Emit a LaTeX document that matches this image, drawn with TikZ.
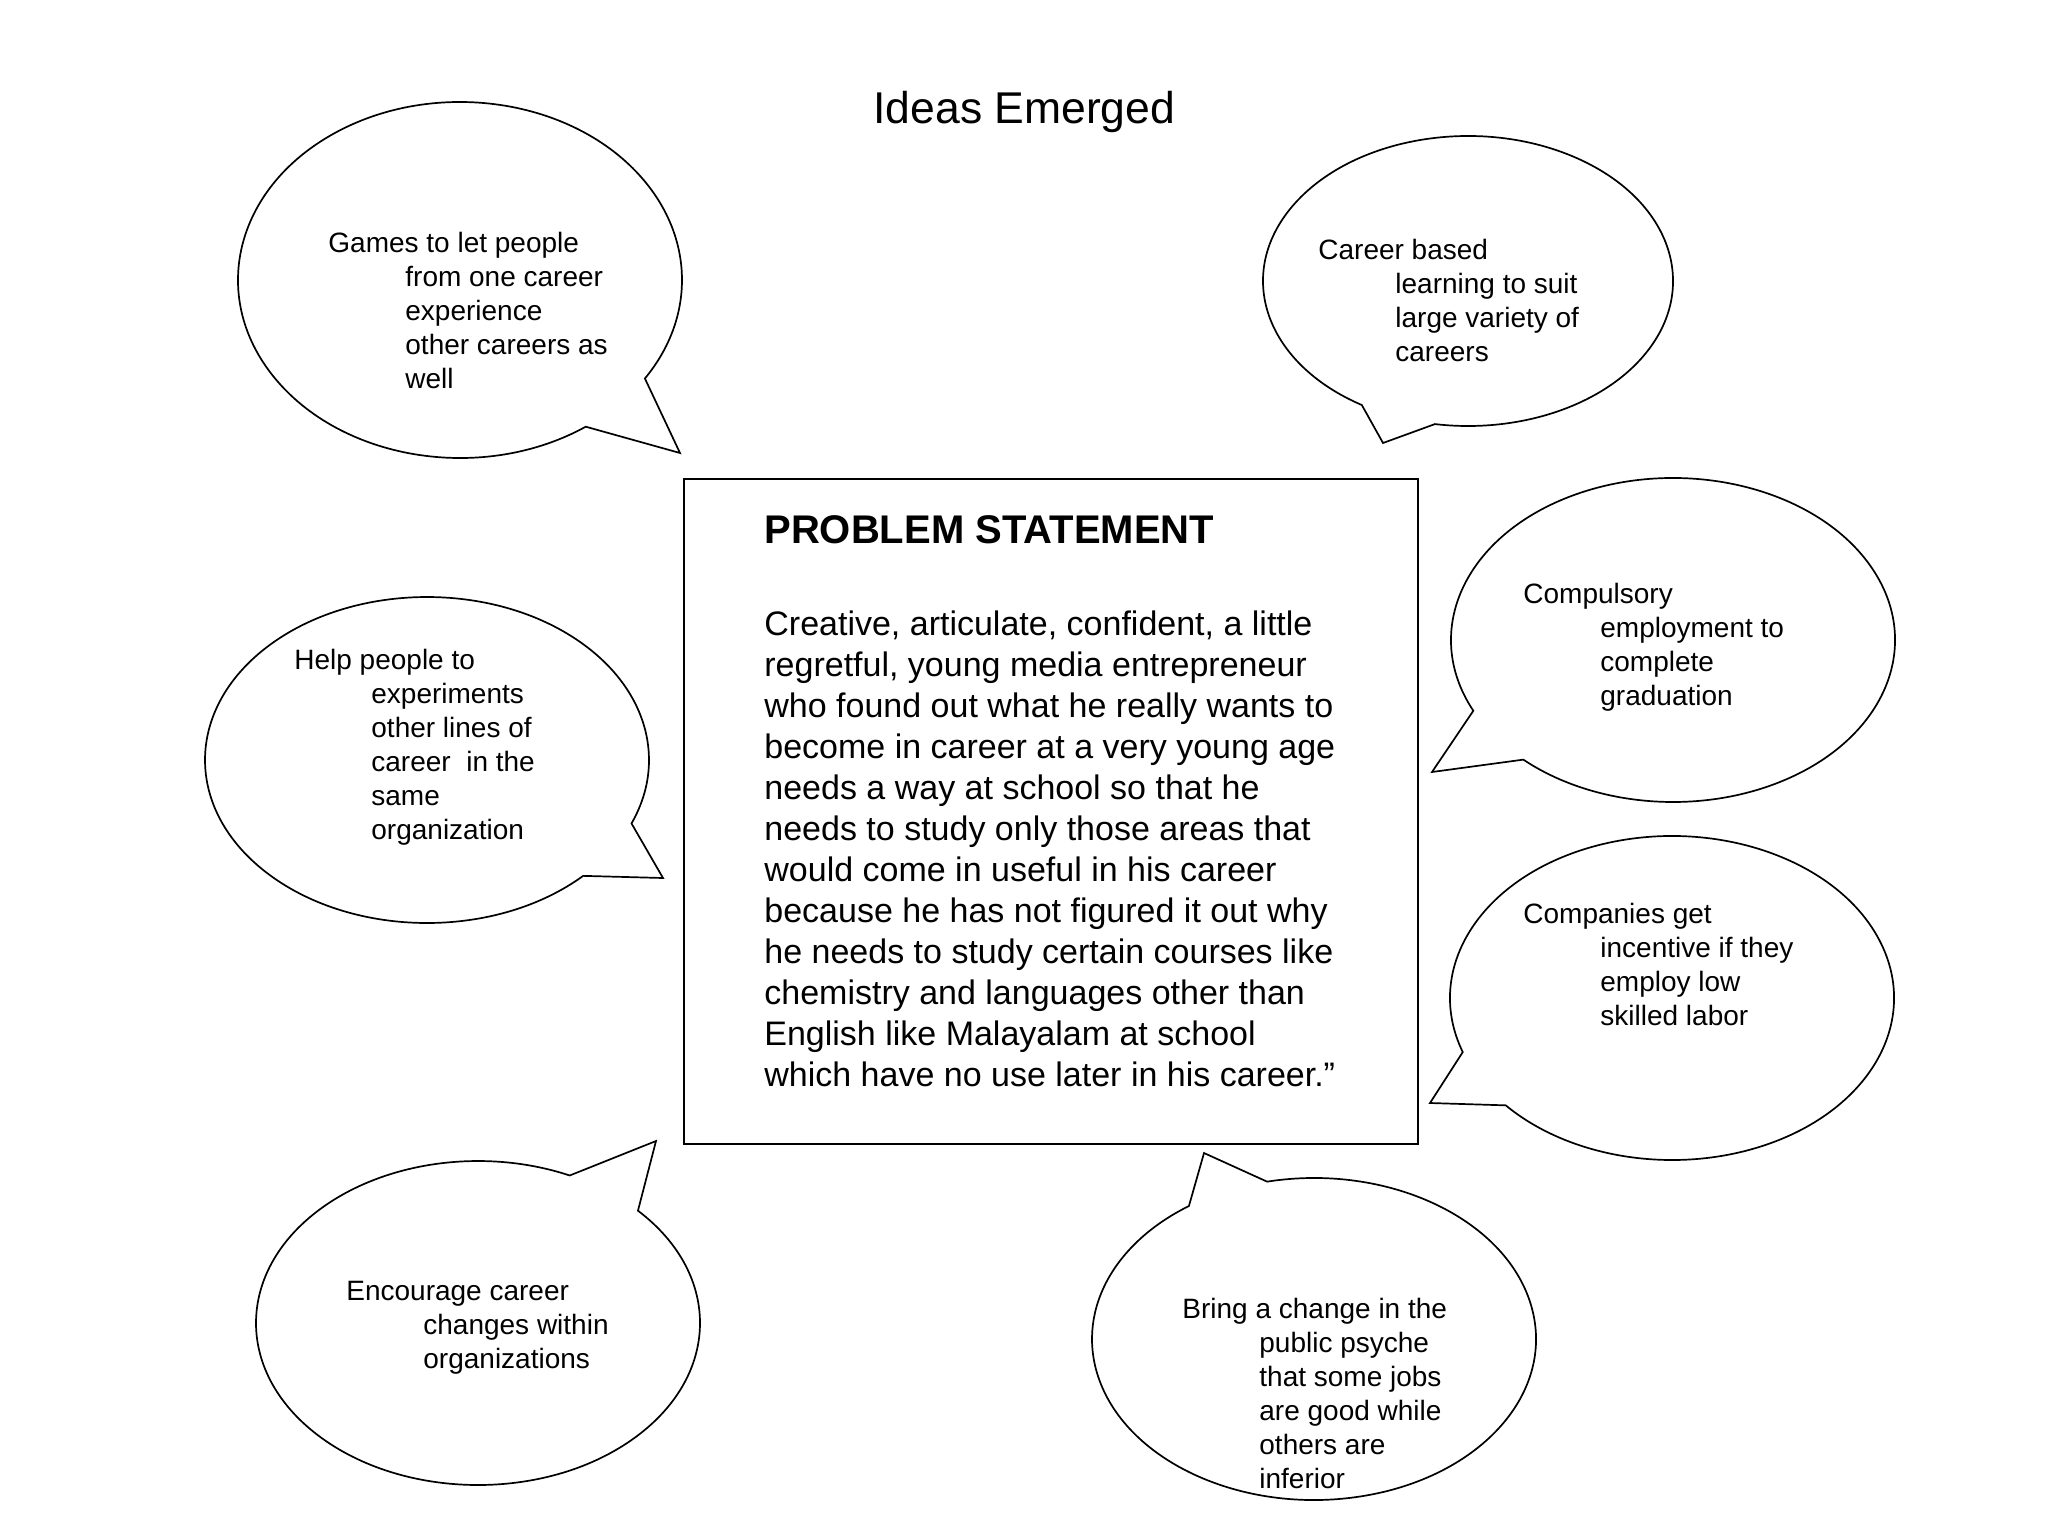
\documentclass[tikz,border=0pt]{standalone}
\usepackage{fontspec}
\setmainfont{Liberation Sans}
\newcommand\bubtxt[1]{\parbox[t]{300pt}{\fontsize{14}{17}\selectfont\raggedright #1}}
\newcommand\indl{\hspace*{38.5pt}}
\begin{document}
\begin{tikzpicture}[x=0.5pt,y=-0.5pt,
  bub/.style={draw=black, line width=0.85pt, fill=white, line join=miter},
  lbl/.style={inner sep=0pt, anchor=base west}]
\useasboundingbox[fill=white] (0,0) rectangle (2048,1536);

% title
\node[lbl] (title) at (873,123) {\fontsize{22.25}{26}\selectfont Ideas Emerged};

% problem statement box
\node[draw=black, line width=0.85pt, inner sep=0pt, anchor=north west,
      minimum width=367pt, minimum height=332.5pt] (pbox) at (683,478) {};
\node[lbl] (phead) at (764,543) {\fontsize{20}{24}\selectfont\bfseries PROBLEM STATEMENT};
\node[lbl] (pbody) at (764,635) {\parbox[t]{400pt}{\fontsize{17}{20.5}\selectfont\raggedright
Creative, articulate, confident, a little\\
regretful, young media entrepreneur\\
who found out what he really wants to\\
become in career at a very young age\\
needs a way at school so that he\\
needs to study only those areas that\\
would come in useful in his career\\
because he has not figured it out why\\
he needs to study certain courses like\\
chemistry and languages other than\\
English like Malayalam at school\\
which have no use later in his career.”}};

% bubble 1: Games
\coordinate (g) at (460,280);
\coordinate (gtip) at (680,453);
\draw[bub] (g) ++(55.5:222 and 178) arc[start angle=55.5, end angle=393.6, x radius=222, y radius=178] -- (gtip) -- cycle;
\node[lbl] (gt) at (328,252) {\bubtxt{Games to let people\\\indl from one career\\\indl experience\\\indl other careers as\\\indl well}};

% bubble 2: Career based
\coordinate (c) at (1468,281);
\coordinate (ctip) at (1383,443);
\draw[bub] (c) ++(121.2:205 and 145) arc[start angle=121.2, end angle=459.3, x radius=205, y radius=145] -- (ctip) -- cycle;
\node[lbl] (ct) at (1318,259) {\bubtxt{Career based\\\indl learning to suit\\\indl large variety of\\\indl careers}};

% bubble 3: Compulsory
\coordinate (m) at (1673,640);
\coordinate (mtip) at (1432,772);
\draw[bub] (m) ++(154.1:222 and 162) arc[start angle=154.1, end angle=492.4, x radius=222, y radius=162] -- (mtip) -- cycle;
\node[lbl] (mt) at (1523,603) {\bubtxt{Compulsory\\\indl employment to\\\indl complete\\\indl graduation}};

% bubble 4: Companies
\coordinate (k) at (1672,998);
\coordinate (ktip) at (1430,1103);
\draw[bub] (k) ++(160.5:222 and 162) arc[start angle=160.5, end angle=498.5, x radius=222, y radius=162] -- (ktip) -- cycle;
\node[lbl] (kt) at (1523,923) {\bubtxt{Companies get\\\indl incentive if they\\\indl employ low\\\indl skilled labor}};

% bubble 5: Help people
\coordinate (h) at (427,760);
\coordinate (htip) at (663,878);
\draw[bub] (h) ++(45.3:222 and 163) arc[start angle=45.3, end angle=382.9, x radius=222, y radius=163] -- (htip) -- cycle;
\node[lbl] (ht) at (294,669) {\bubtxt{Help people to\\\indl experiments\\\indl other lines of\\\indl career~ in the\\\indl same\\\indl organization}};

% bubble 6: Encourage
\coordinate (e) at (478,1323);
\coordinate (etip) at (656,1141);
\draw[bub] (e) ++(-43.9:222 and 162) arc[start angle=-43.9, end angle=294.4, x radius=222, y radius=162] -- (etip) -- cycle;
\node[lbl] (et) at (346,1300) {\bubtxt{Encourage career\\\indl changes within\\\indl organizations}};

% bubble 7: Bring a change
\coordinate (b) at (1314,1339);
\coordinate (btip) at (1204,1153);
\draw[bub] (b) ++(257.8:222 and 161) arc[start angle=257.8, end angle=595.7, x radius=222, y radius=161] -- (btip) -- cycle;
\node[lbl] (bt) at (1182,1318) {\bubtxt{Bring a change in the\\\indl public psyche\\\indl that some jobs\\\indl are good while\\\indl others are\\\indl inferior}};
\end{tikzpicture}
\end{document}
